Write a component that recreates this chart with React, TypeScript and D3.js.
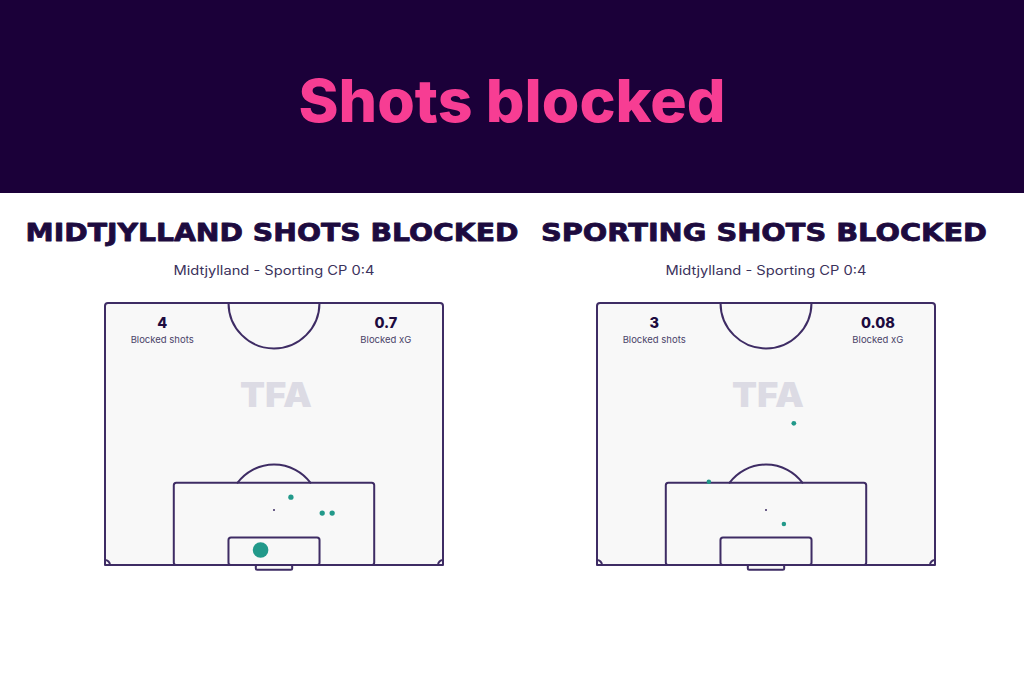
import { useRef, useEffect } from "react";
import * as d3 from "d3";

interface Shot {
  x: number; // metres across the pitch, 0 = left touchline
  y: number; // metres out from the goal line
  xg: number;
}

const pageTitle = "Shots blocked";
const teamTitles = ["MIDTJYLLAND SHOTS BLOCKED", "SPORTING SHOTS BLOCKED"];
const matchLabel = "Midtjylland - Sporting CP 0:4";
const blockedShots = ["4", "3"];
const blockedXg = ["0.7", "0.08"];

const midtjyllandShots: Shot[] = [
  { x: 37.4, y: 13.6, xg: 0.04 },
  { x: 43.7, y: 10.4, xg: 0.04 },
  { x: 45.7, y: 10.4, xg: 0.04 },
  { x: 31.3, y: 3.0, xg: 0.58 },
];

const sportingShots: Shot[] = [
  { x: 39.6, y: 28.4, xg: 0.03 },
  { x: 22.5, y: 16.7, xg: 0.025 },
  { x: 37.6, y: 8.2, xg: 0.025 },
];

const allShots = [midtjyllandShots, sportingShots];

const PITCH_W = 68;
const PITCH_L = 52.5;

const BG = "#1b0039";
const PINK = "#f73d93";
const INK = "#1d0b3f";
const LINE = "#3e2c64";
const TEAL = "#22998a";

export default function App() {
  const svgRef = useRef<SVGSVGElement>(null);

  useEffect(() => {
    const width = 1024;
    const height = 683;
    const svg = d3.select(svgRef.current);
    svg.selectAll("*").remove();
    svg.attr("width", width).attr("height", height);

    // Fondo y cabecera
    svg.append("rect").attr("width", width).attr("height", height).attr("fill", "#ffffff");
    svg.append("rect").attr("width", width).attr("height", 193).attr("fill", BG);
    svg
      .append("text")
      .attr("x", width / 2)
      .attr("y", 122)
      .attr("text-anchor", "middle")
      .attr("font-family", "Inter, sans-serif")
      .attr("font-weight", 800)
      .attr("font-size", 59)
      .attr("textLength", 427)
      .attr("lengthAdjust", "spacingAndGlyphs")
      .attr("fill", PINK)
      .text(pageTitle);

    const panelLeft = [105, 597];
    const titleWidths = [493, 446];

    const rScale = d3.scaleSqrt().domain([0, 1]).range([0.8, 10]);

    teamTitles.forEach((title, i) => {
      const sx = d3.scaleLinear().domain([0, PITCH_W]).range([panelLeft[i], panelLeft[i] + 338]);
      const sy = d3.scaleLinear().domain([0, PITCH_L]).range([565, 303]);
      const k = sx(1) - sx(0);
      const cx = sx(PITCH_W / 2);

      const g = svg.append("g");

      // Títulos
      g.append("text")
        .attr("x", cx - 2)
        .attr("y", 241)
        .attr("text-anchor", "middle")
        .attr("font-family", "'DejaVu Sans', sans-serif")
        .attr("font-weight", 700)
        .attr("font-size", 24)
        .attr("textLength", titleWidths[i])
        .attr("lengthAdjust", "spacingAndGlyphs")
        .attr("fill", INK)
        .attr("stroke", INK)
        .attr("stroke-width", 0.8)
        .attr("stroke-linejoin", "round")
        .text(title);

      g.append("text")
        .attr("x", cx)
        .attr("y", 275)
        .attr("text-anchor", "middle")
        .attr("font-family", "Inter, sans-serif")
        .attr("font-size", 12.5)
        .attr("textLength", 201)
        .attr("lengthAdjust", "spacingAndGlyphs")
        .attr("fill", "#3b325c")
        .text(matchLabel);

      // Campo
      const lines = g
        .append("g")
        .attr("fill", "none")
        .attr("stroke", LINE)
        .attr("stroke-width", 2)
        .attr("stroke-linejoin", "round")
        .attr("stroke-linecap", "round");

      // contorno: esquinas superiores redondeadas, inferiores rectas
      const x0 = sx(0);
      const x1 = sx(PITCH_W);
      const yTop = sy(PITCH_L);
      const yBot = sy(0);
      const rr = 3;
      lines
        .append("path")
        .attr(
          "d",
          `M${x0},${yBot} L${x0},${yTop + rr} Q${x0},${yTop} ${x0 + rr},${yTop} ` +
            `L${x1 - rr},${yTop} Q${x1},${yTop} ${x1},${yTop + rr} L${x1},${yBot} Z`
        )
        .attr("fill", "#f8f8f8");

      // Marca de agua
      g.append("text")
        .attr("x", cx + 2)
        .attr("y", 407)
        .attr("text-anchor", "middle")
        .attr("font-family", "Inter, sans-serif")
        .attr("font-weight", 900)
        .attr("font-size", 34)
        .attr("textLength", 72)
        .attr("lengthAdjust", "spacingAndGlyphs")
        .attr("fill", "#dcdbe4")
        .text("TFA");

      const rc = 9.15 * k;
      lines
        .append("path")
        .attr("d", `M${sx(34 - 9.15)},${sy(PITCH_L)} A${rc},${rc} 0 0 0 ${sx(34 + 9.15)},${sy(PITCH_L)}`);

      const ax = Math.sqrt(9.15 * 9.15 - 5.5 * 5.5);
      lines
        .append("path")
        .attr("d", `M${sx(34 - ax)},${sy(16.5)} A${rc},${rc} 0 0 1 ${sx(34 + ax)},${sy(16.5)}`);

      const box = (half: number, depth: number) =>
        lines
          .append("rect")
          .attr("x", sx(34 - half))
          .attr("y", sy(depth))
          .attr("width", sx(34 + half) - sx(34 - half))
          .attr("height", sy(0) - sy(depth))
          .attr("rx", 2.5);
      box(20.16, 16.5);
      box(9.16, 5.5);

      // Portería
      lines
        .append("rect")
        .attr("x", sx(34 - 3.66))
        .attr("y", sy(0))
        .attr("width", sx(34 + 3.66) - sx(34 - 3.66))
        .attr("height", sy(-0.95) - sy(0))
        .attr("rx", 1.5)
        .attr("fill", "#f8f8f8");

      const cr = 1 * k;
      lines
        .append("path")
        .attr("d", `M${sx(0)},${sy(1)} A${cr},${cr} 0 0 1 ${sx(1)},${sy(0)}`);
      lines
        .append("path")
        .attr("d", `M${sx(PITCH_W - 1)},${sy(0)} A${cr},${cr} 0 0 1 ${sx(PITCH_W)},${sy(1)}`);

      g.append("circle").attr("cx", cx).attr("cy", sy(11)).attr("r", 1).attr("fill", LINE);

      // Estadísticas
      const stats = [
        { value: blockedShots[i], label: "Blocked shots", x: sx(11.5) },
        { value: blockedXg[i], label: "Blocked xG", x: sx(PITCH_W - 11.5) },
      ];
      stats.forEach((s) => {
        g.append("text")
          .attr("x", s.x)
          .attr("y", 328)
          .attr("text-anchor", "middle")
          .attr("font-family", "Inter, sans-serif")
          .attr("font-weight", 800)
          .attr("font-size", 14.5)
          .attr("fill", INK)
          .text(s.value);
        g.append("text")
          .attr("x", s.x)
          .attr("y", 343)
          .attr("text-anchor", "middle")
          .attr("font-family", "Inter, sans-serif")
          .attr("font-size", 9.5)
          .attr("fill", "#4a4368")
          .text(s.label);
      });

      // Tiros bloqueados
      g.append("g")
        .selectAll("circle")
        .data(allShots[i])
        .join("circle")
        .attr("cx", (d) => sx(d.x))
        .attr("cy", (d) => sy(d.y))
        .attr("r", (d) => rScale(d.xg))
        .attr("fill", TEAL);
    });
  }, []);

  return <svg ref={svgRef} style={{ position: "absolute", left: 0, top: 0 }}></svg>;
}
